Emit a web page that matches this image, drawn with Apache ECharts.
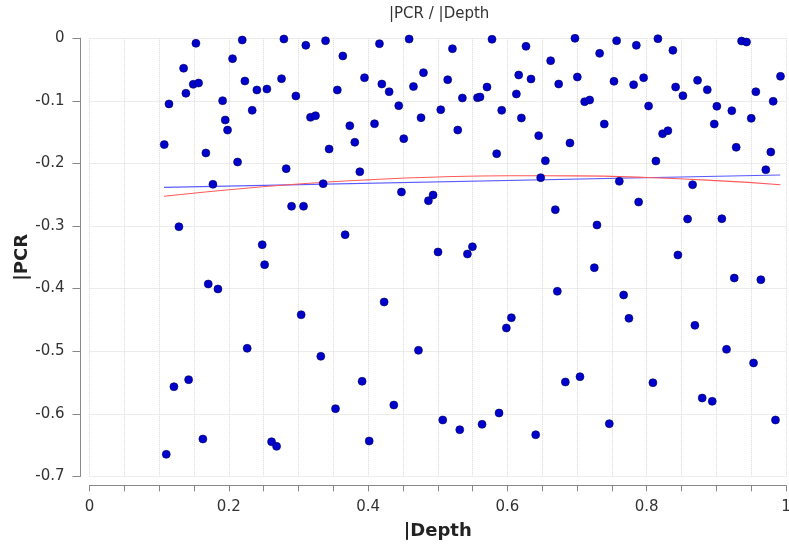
<!DOCTYPE html>
<html>
<head>
<meta charset="utf-8">
<script src="https://cdn.jsdelivr.net/npm/echarts@6/dist/echarts.min.js"></script>
<style>
  html, body { margin: 0; padding: 0; background: #fff; }
  #chart { width: 789px; height: 545px; }
</style>
</head>
<body>
<div id="chart"></div>
<script>
// Scatter points
const depthValues = [
  0.1528,0.2193,0.2791,0.3106,0.3389,0.2054,0.1351,0.1490,0.1566,0.1384,0.2231,0.2403,0.2547,0.2757,0.2963,0.1141,0.1911,0.2336,0.1949,0.1982,0.3173,0.3245,0.1073,0.1671,0.3440,0.2126,0.2824,0.1772,0.3355,0.2901,0.3073,0.1284,0.2480,
  0.4163,0.4589,0.5211,0.5779,0.6267,0.6621,0.3637,0.3948,0.4197,0.4302,0.4651,0.4795,0.5143,0.3558,0.5354,0.5570,0.5607,0.5707,0.6162,0.6339,0.6129,0.6736,0.4440,0.5043,0.5918,0.3737,0.4092,0.4760,0.6201,0.3809,0.4512,0.5287,0.6449,0.5846,0.6545,0.3881,0.6478,0.4479,0.4866,0.4933,0.6688,0.3670,0.5004,0.5498,0.5426,
  0.6970,0.7568,0.7851,0.8161,0.8376,0.9362,0.9433,0.7324,0.7004,0.7530,0.7812,0.7956,0.8415,0.8520,0.8730,0.8870,0.9921,0.9567,0.7109,0.7181,0.8027,0.9007,0.9222,0.9816,0.7391,0.8228,0.8304,0.8970,0.9501,0.6898,0.9285,0.9782,0.8132,0.9710,0.7607,0.8659,0.7884,0.7286,0.8587,0.9079,0.8448,
  0.2514,0.1705,0.1844,0.3039,0.2264,0.3321,0.1423,0.1212,0.1628,0.1102,0.2614,0.2686,
  0.6717,0.4230,0.6057,0.5985,0.4723,0.3914,0.3532,0.4369,0.4016,0.5072,0.5316,0.5636,0.5880,0.6406,
  0.7248,0.9257,0.9639,0.7669,0.7745,0.8692,0.9146,0.9534,0.6832,0.7042,0.8089,0.8797,0.8941,0.7463,0.9849
];
const pcrValues = [
  -0.0082,-0.0029,-0.0013,-0.0114,-0.0040,-0.0327,-0.0480,-0.0737,-0.0716,-0.0880,-0.0684,-0.0827,-0.0812,-0.0647,-0.0923,-0.1050,-0.0998,-0.1152,-0.1307,-0.1467,-0.1264,-0.1238,-0.1700,-0.1834,-0.1770,-0.1978,-0.2084,-0.2334,-0.2324,-0.2685,-0.2685,-0.3011,-0.3299,
  -0.0088,-0.0013,-0.0168,-0.0018,-0.0130,-0.0359,-0.0284,-0.0631,-0.0732,-0.0855,-0.0772,-0.0551,-0.0663,-0.0827,-0.0955,-0.0950,-0.0939,-0.0780,-0.0588,-0.0652,-0.0891,-0.0732,-0.1078,-0.1142,-0.1152,-0.1398,-0.1366,-0.1270,-0.1275,-0.1663,-0.1605,-0.1467,-0.1557,-0.1845,-0.1957,-0.2133,-0.2228,-0.2457,-0.2596,-0.2505,-0.2739,-0.3139,-0.3415,-0.3331,-0.3447,
  -0.0002,-0.0040,-0.0114,-0.0008,-0.0194,-0.0045,-0.0061,-0.0242,-0.0620,-0.0689,-0.0743,-0.0631,-0.0780,-0.0919,-0.0673,-0.0823,-0.0609,-0.0855,-0.1014,-0.0987,-0.1083,-0.1088,-0.1158,-0.1008,-0.1371,-0.1526,-0.1478,-0.1371,-0.1280,-0.1674,-0.1743,-0.1818,-0.1962,-0.2101,-0.2286,-0.2340,-0.2617,-0.2984,-0.2888,-0.2883,-0.3463,
  -0.3618,-0.3927,-0.4006,-0.4417,-0.4954,-0.5082,-0.5455,-0.5567,-0.6403,-0.6647,-0.6446,-0.6520,
  -0.4043,-0.4214,-0.4465,-0.4629,-0.4986,-0.5481,-0.5918,-0.5860,-0.6435,-0.6099,-0.6254,-0.6168,-0.5987,-0.6334,
  -0.3666,-0.3831,-0.3858,-0.4102,-0.4475,-0.4587,-0.4970,-0.5188,-0.5492,-0.5407,-0.5503,-0.5748,-0.5801,-0.6158,-0.6099
];

// Trend lines
const linearFitX = [0.107, 0.9917];
const linearFitY = [-0.2383, -0.2185];
const quadFitX = [0.107, 0.2, 0.3, 0.4, 0.5, 0.6, 0.7, 0.8, 0.9, 0.992];
const quadFitY = [-0.2526, -0.2421, -0.2330, -0.2263, -0.2218, -0.2198, -0.2200, -0.2226, -0.2275, -0.2340];

// Axis labels
const xTickLabels = ['0', '0.2', '0.4', '0.6', '0.8', '1'];
const titleText = '|PCR / |Depth';
const xName = '|Depth';
const yName = '|PCR';

const pairs = (xs, ys) => xs.map((x, i) => [x, ys[i]]);
const FONT = 'DejaVu Sans';

const chart = echarts.init(document.getElementById('chart'), null, { renderer: 'canvas' });
chart.setOption({
  animation: false,
  backgroundColor: '#ffffff',
  title: {
    text: titleText,
    left: 384,
    top: 2,
    textStyle: { fontFamily: FONT, fontSize: 15, fontWeight: 'normal', color: '#333' }
  },
  grid: { left: 89.5, right: 3, top: 38.2, bottom: 68.6, containLabel: false, outerBoundsMode: 'none' },
  xAxis: {
    type: 'value',
    min: 0, max: 1, interval: 0.05,
    offset: 9,
    name: xName,
    nameLocation: 'middle',
    nameGap: 37,
    nameMoveOverlap: false,
    nameTextStyle: { fontFamily: FONT, fontSize: 18, fontWeight: 'bold', color: '#222' },
    axisLine: { show: true, onZero: false, lineStyle: { color: '#888', width: 1 } },
    axisTick: { show: true, length: 6, inside: false, lineStyle: { color: '#888' } },
    axisLabel: {
      fontFamily: FONT, fontSize: 15, color: '#333', margin: 14,
      formatter: function (v) {
        const k = v / 0.2;
        if (Math.abs(k - Math.round(k)) < 1e-6) return xTickLabels[Math.round(k)];
        return '';
      }
    },
    splitLine: { show: true, lineStyle: { color: '#d9d9d9', type: 'dotted', width: 1 } }
  },
  yAxis: {
    type: 'value',
    min: -0.7, max: 0, interval: 0.1,
    offset: 9,
    name: yName,
    nameLocation: 'middle',
    nameGap: 49,
    nameMoveOverlap: false,
    nameRotate: 90,
    nameTextStyle: { fontFamily: FONT, fontSize: 18, fontWeight: 'bold', color: '#222' },
    axisLine: { show: true, onZero: false, lineStyle: { color: '#888', width: 1 } },
    axisTick: { show: true, length: 8, inside: false, lineStyle: { color: '#888' } },
    axisLabel: {
      fontFamily: FONT, fontSize: 15, color: '#333', margin: 16,
      formatter: function (v) { return String(+v.toFixed(2)); }
    },
    splitLine: { show: true, lineStyle: { color: '#d9d9d9', type: 'dotted', width: 1 } }
  },
  series: [
    {
      type: 'line',
      data: pairs(linearFitX, linearFitY),
      showSymbol: false,
      lineStyle: { color: '#5a5aff', width: 1.2 },
      z: 2,
      silent: true
    },
    {
      type: 'line',
      data: pairs(quadFitX, quadFitY),
      showSymbol: false,
      smooth: true,
      lineStyle: { color: '#ff5a5a', width: 1.1 },
      z: 2,
      silent: true
    },
    {
      type: 'scatter',
      data: pairs(depthValues, pcrValues),
      symbol: 'circle',
      symbolSize: 8,
      itemStyle: { color: '#0000cc', borderColor: '#00005a', borderWidth: 0.6, opacity: 1 },
      z: 3
    }
  ]
});
</script>
</body>
</html>
